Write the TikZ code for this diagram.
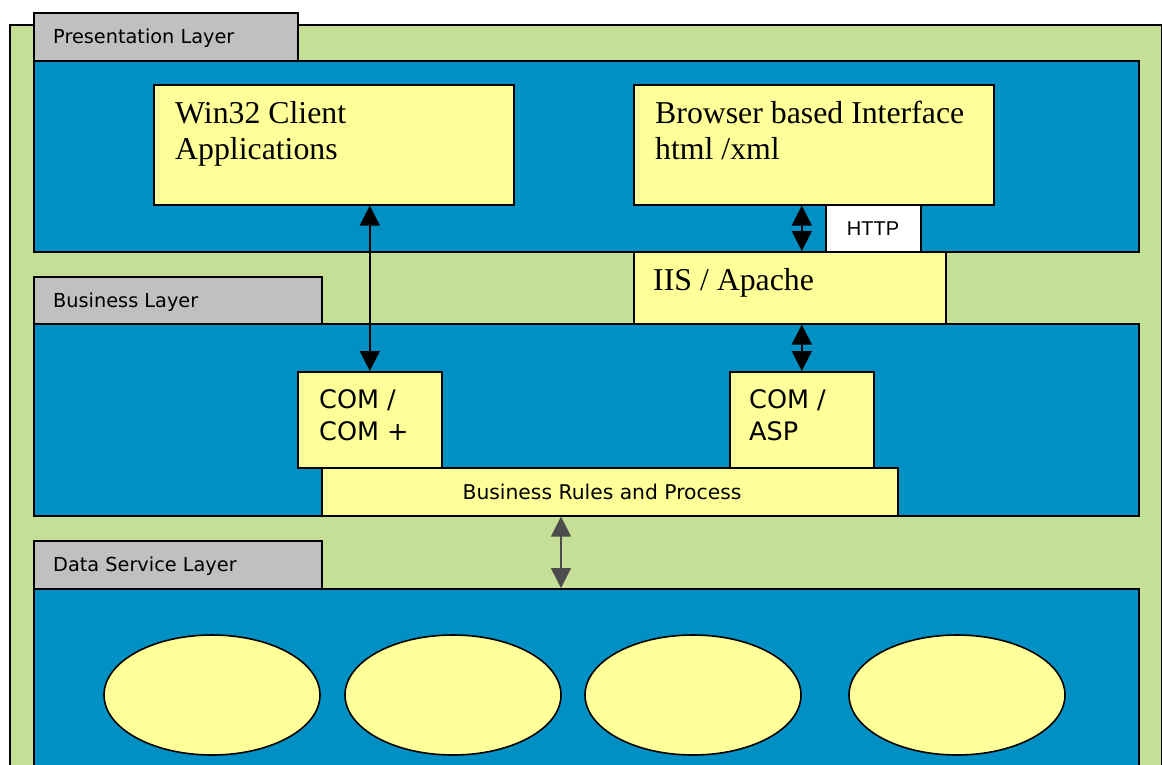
\documentclass[tikz,border=0pt]{standalone}
\usepackage{fontspec}
\setmainfont{Liberation Serif}
\newfontfamily\verdana{DejaVu Sans}
\newfontfamily\arialfont{Liberation Sans}
\usetikzlibrary{arrows.meta,positioning,shapes.geometric}
\definecolor{layergreen}{HTML}{C6DF96}
\definecolor{layerblue}{HTML}{0090C4}
\definecolor{boxyellow}{HTML}{FFFF99}
\definecolor{tabgray}{HTML}{C0C0C0}

\begin{document}
\begin{tikzpicture}[x=1pt,y=-1pt,
    area/.style={draw,line width=1.6pt,inner sep=0pt,anchor=north west},
    panel/.style={area,fill=layerblue,minimum width=1105},
    tab/.style={area,fill=tabgray,minimum height=48},
    ybox/.style={area,fill=boxyellow},
    tabtext/.style={inner sep=0pt,anchor=base west,font=\verdana\fontsize{19.3}{22}\selectfont},
    serif/.style={inner sep=0pt,anchor=north west,align=left,font=\fontsize{31.8}{36}\selectfont},
    sans/.style={inner sep=0pt,anchor=north west,align=left,font=\verdana\fontsize{25.5}{32}\selectfont},
    dbl/.style={{Triangle[width=20pt,length=20pt]}-{Triangle[width=20pt,length=20pt]},line width=1.5pt}]
      \clip (0,0) rectangle (1162,764);
      \node[area,fill=layergreen,minimum width=1152,minimum height=800] (outer) at (9,24) {};
      \node[tab,minimum width=264] (prestab) at (33,12) {};
      \node[tabtext] (prestxt) at (53,43) {Presentation Layer};
      \node[panel,minimum height=191] (pres) at (33,60) {};
      \node[tab,minimum width=288,minimum height=47] (bustab) at (33,276) {};
      \node[tabtext] (bustxt) at (53,307) {Business Layer};
      \node[panel,minimum height=192] (bus) at (33,323) {};
      \node[tab,minimum width=288] (datatab) at (33,540) {};
      \node[tabtext] (datatxt) at (53,571) {Data Service Layer};
      \node[panel,minimum height=260] (data) at (33,588) {};
      \node[ybox,minimum width=360,minimum height=120] (win) at (153,84) {};
      \node[serif] (wintxt) at (175,101) {Win32 Client\\Applications};
      \node[ybox,minimum width=360,minimum height=120] (browser) at (633,84) {};
      \node[serif] (browsertxt) at (655,101) {Browser based Interface\\html /xml};
      \node[area,fill=white,minimum width=95,minimum height=47] (http) at (825,204) {};
      \node[inner sep=0pt,anchor=base,font=\arialfont\fontsize{20}{24}\selectfont] (httptxt) at (873,235) {HTTP};
      \node[ybox,minimum width=312,minimum height=72] (iis) at (633,251) {};
      \node[serif] (iistxt) at (653,268) {IIS / Apache};
      \node[ybox,minimum width=144,minimum height=96] (com) at (297,371) {};
      \node[sans] (comtxt) at (319,389) {COM /\\COM +};
      \node[ybox,minimum width=144,minimum height=96] (asp) at (729,371) {};
      \node[sans] (asptxt) at (749,389) {COM /\\ASP};
      \node[ybox,minimum width=576,minimum height=48] (rules) at (321,467) {};
      \node[inner sep=0pt,anchor=base,font=\verdana\fontsize{20.3}{24}\selectfont] (rulestxt) at (602,499) {Business Rules and Process};
      \foreach \x/\n in {212/1,453/2,693/3,957/4}
        \node[ellipse,draw,line width=1.6pt,fill=boxyellow,minimum width=216,minimum height=120] (db\n) at (\x,695) {};
      \coordinate (datatap) at (561,588);
      \draw[dbl] (com.north |- win.south) -- (com.north);
      \draw[dbl] (asp.north |- browser.south) -- (asp.north |- iis.north);
      \draw[dbl] (asp.north |- iis.south) -- (asp.north);
      \draw[dbl,draw=black!70] (datatap |- rules.south) -- (datatap);
    \end{tikzpicture}
\end{document}
